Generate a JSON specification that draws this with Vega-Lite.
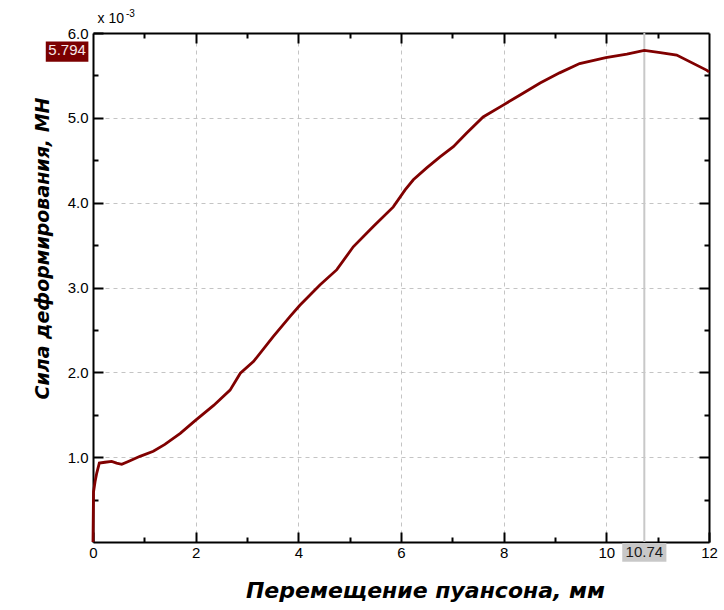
{
  "$schema": "https://vega.github.io/schema/vega-lite/v6.json",
  "width": 616,
  "height": 509,
  "autosize": {"type": "none"},
  "padding": {"left": 93, "top": 33, "right": 15, "bottom": 68},
  "background": "white",
  "config": {
    "view": {"stroke": null},
    "axis": {
      "labelFont": "Liberation Sans",
      "labelFontSize": 15,
      "labelColor": "#000000",
      "labelFlush": false,
      "labelOverlap": false,
      "tickColor": "#000000",
      "tickWidth": 2,
      "domainColor": "#000000",
      "domainWidth": 2,
      "gridColor": "#c4c4c4",
      "gridDash": [4, 4],
      "gridWidth": 1,
      "titleFont": "DejaVu Sans",
      "titleFontWeight": "bold",
      "titleFontStyle": "italic",
      "titleColor": "#000000"
    }
  },
  "datasets": {
    "curve": [
      {"x": 0, "y": 0},
      {"x": 0.01, "y": 0.59},
      {"x": 0.04, "y": 0.71},
      {"x": 0.072, "y": 0.81},
      {"x": 0.123, "y": 0.93},
      {"x": 0.234, "y": 0.94},
      {"x": 0.364, "y": 0.95},
      {"x": 0.46, "y": 0.93},
      {"x": 0.56, "y": 0.915},
      {"x": 0.688, "y": 0.95},
      {"x": 0.916, "y": 1.01},
      {"x": 1.175, "y": 1.07},
      {"x": 1.40, "y": 1.15},
      {"x": 1.70, "y": 1.28},
      {"x": 1.99, "y": 1.43},
      {"x": 2.35, "y": 1.61},
      {"x": 2.67, "y": 1.79},
      {"x": 2.87, "y": 1.99},
      {"x": 3.13, "y": 2.13},
      {"x": 3.51, "y": 2.42},
      {"x": 3.84, "y": 2.66},
      {"x": 4.03, "y": 2.79},
      {"x": 4.42, "y": 3.03},
      {"x": 4.75, "y": 3.21},
      {"x": 5.07, "y": 3.48},
      {"x": 5.46, "y": 3.72},
      {"x": 5.85, "y": 3.95},
      {"x": 6.08, "y": 4.15},
      {"x": 6.24, "y": 4.27},
      {"x": 6.50, "y": 4.41},
      {"x": 6.76, "y": 4.54},
      {"x": 7.02, "y": 4.66},
      {"x": 7.28, "y": 4.82},
      {"x": 7.60, "y": 5.01},
      {"x": 7.99, "y": 5.15},
      {"x": 8.32, "y": 5.27},
      {"x": 8.71, "y": 5.41},
      {"x": 9.09, "y": 5.53},
      {"x": 9.48, "y": 5.64},
      {"x": 9.99, "y": 5.71},
      {"x": 10.40, "y": 5.75},
      {"x": 10.74, "y": 5.794},
      {"x": 11.05, "y": 5.77},
      {"x": 11.37, "y": 5.74},
      {"x": 11.96, "y": 5.56},
      {"x": 12.0, "y": 5.54}
    ],
    "marker": [
      {"x": 10.74, "y": 5.794, "xlabel": "10.74", "ylabel": "5.794"}
    ]
  },
  "resolve": {"axis": {"x": "independent", "y": "independent"}},
  "layer": [
    {
      "data": {"name": "marker"},
      "mark": {"type": "rule", "color": "#c8c8c8", "strokeWidth": 2},
      "encoding": {
        "x": {
          "field": "x", "type": "quantitative",
          "scale": {"domain": [0, 12], "nice": false, "zero": false},
          "axis": {"orient": "top", "values": [2, 4, 6, 8, 10], "tickSize": -10, "labels": false, "grid": true, "domain": true, "title": null}
        },
        "y": {
          "datum": 0, "type": "quantitative",
          "scale": {"domain": [0, 6], "nice": false, "zero": false},
          "axis": {"orient": "right", "values": [1, 2, 3, 4, 5], "tickSize": -10, "labels": false, "grid": true, "domain": true, "title": null}
        },
        "y2": {"datum": 6}
      }
    },
    {
      "data": {"name": "curve"},
      "mark": {"type": "line", "color": "#800000", "strokeWidth": 2.8},
      "encoding": {
        "x": {
          "field": "x", "type": "quantitative",
          "axis": {"orient": "bottom", "values": [0, 2, 4, 6, 8, 10, 12], "format": "d", "tickSize": -10, "labelPadding": 13, "grid": false, "domain": true,
            "title": "Перемещение пуансона, мм", "titleFontSize": 22, "titleX": 332, "titleY": 55, "titleAlign": "center", "titleBaseline": "alphabetic"}
        },
        "y": {
          "field": "y", "type": "quantitative",
          "axis": {"orient": "left", "values": [1, 2, 3, 4, 5, 6], "format": ".1f", "tickSize": -10, "labelPadding": 15, "grid": false, "domain": true,
            "title": "Сила деформирования, МН", "titleFontSize": 19, "titleX": -45, "titleY": 215, "titleAngle": -90, "titleAlign": "center", "titleBaseline": "alphabetic"}
        }
      }
    },
    {
      "data": {"name": "marker"},
      "mark": {"type": "rect", "color": "#7b0000"},
      "encoding": {
        "x": {"datum": -0.92, "type": "quantitative",
          "axis": {"orient": "bottom", "values": [1, 3, 5, 7, 9, 11], "tickSize": -5, "labels": false, "grid": false, "domain": false, "title": null}},
        "x2": {"datum": -0.09},
        "y": {"datum": 5.66, "type": "quantitative",
          "axis": {"orient": "left", "values": [0.5, 1.5, 2.5, 3.5, 4.5, 5.5], "tickSize": -5, "labels": false, "grid": false, "domain": false, "title": null}},
        "y2": {"datum": 5.90}
      }
    },
    {
      "data": {"name": "marker"},
      "mark": {"type": "rect", "color": "#c8c8c8"},
      "encoding": {
        "x": {"datum": 10.31, "type": "quantitative",
          "axis": {"orient": "top", "values": [1, 3, 5, 7, 9, 11], "tickSize": -5, "labels": false, "grid": false, "domain": false, "title": null}},
        "x2": {"datum": 11.17},
        "y": {"datum": -0.012, "type": "quantitative",
          "axis": {"orient": "right", "values": [0.5, 1.5, 2.5, 3.5, 4.5, 5.5], "tickSize": -5, "labels": false, "grid": false, "domain": false, "title": null}},
        "y2": {"datum": -0.232}
      }
    },
    {
      "data": {"name": "marker"},
      "mark": {"type": "text", "font": "Liberation Sans", "fontSize": 15, "color": "#f6e8e8", "align": "center", "baseline": "middle"},
      "encoding": {
        "x": {"datum": -0.505, "type": "quantitative", "axis": null},
        "y": {"field": "y", "type": "quantitative", "axis": null},
        "text": {"field": "ylabel"}
      }
    },
    {
      "data": {"name": "marker"},
      "mark": {"type": "text", "font": "Liberation Sans", "fontSize": 15, "color": "#1a1a1a", "align": "center", "baseline": "middle"},
      "encoding": {
        "x": {"field": "x", "type": "quantitative", "axis": null},
        "y": {"datum": -0.12, "type": "quantitative", "axis": null},
        "text": {"field": "xlabel"}
      }
    },
    {
      "data": {"name": "marker"},
      "mark": {"type": "text", "font": "Liberation Sans", "fontSize": 14, "color": "#000000", "align": "left", "baseline": "alphabetic"},
      "encoding": {
        "x": {"datum": 0.09, "type": "quantitative", "axis": null},
        "y": {"datum": 6.122, "type": "quantitative", "axis": null},
        "text": {"value": "x 10"}
      }
    },
    {
      "data": {"name": "marker"},
      "mark": {"type": "text", "font": "Liberation Sans", "fontSize": 10, "color": "#000000", "align": "left", "baseline": "alphabetic"},
      "encoding": {
        "x": {"datum": 0.643, "type": "quantitative", "axis": null},
        "y": {"datum": 6.19, "type": "quantitative", "axis": null},
        "text": {"value": "-3"}
      }
    }
  ]
}
